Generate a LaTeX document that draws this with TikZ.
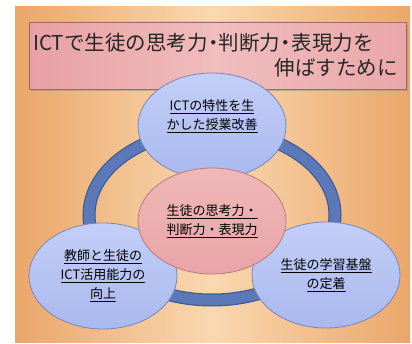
\documentclass[tikz,border=0pt]{standalone}
\usepackage{fontspec}
\setmainfont{Noto Sans CJK JP}
\usetikzlibrary{shapes.geometric}
\definecolor{bgedge}{HTML}{EBA66A}
\definecolor{bgmid}{HTML}{F9D8B0}
\definecolor{ringdark}{HTML}{3F5A96}
\definecolor{ringfill}{HTML}{5B78B8}
\definecolor{bubtop}{HTML}{C3CFF8}
\definecolor{bubbot}{HTML}{A9B8EE}
\definecolor{bubline}{HTML}{7A86B8}
\definecolor{pinktop}{HTML}{F0B8B8}
\definecolor{pinkbot}{HTML}{E9A4A6}
\definecolor{pinkline}{HTML}{B47C7C}
\definecolor{titleL}{HTML}{E8A0A3}
\definecolor{titleM}{HTML}{F1BDBD}
\definecolor{titleR}{HTML}{EAA7A9}
\definecolor{titleline}{HTML}{A06A6A}
\newcommand\halfdot{\makebox[0.55em]{・}}
\begin{document}
\begin{tikzpicture}[x=1pt,y=-1pt,
  bub/.style={ellipse, draw=bubline, line width=0.8pt, top color=bubtop, bottom color=bubbot,
    minimum width=148pt, minimum height=106pt, inner sep=0pt, align=center,
    font=\fontsize{13}{19}\selectfont, text=black},
  core/.style={bub, draw=pinkline, top color=pinktop, bottom color=pinkbot},
  titletext/.style={inner sep=0pt, font=\fontsize{20.5}{24}\selectfont, text=black!85}]
\useasboundingbox (0,0) rectangle (412,344);
% background panel
\path[left color=bgedge, right color=bgedge, middle color=bgmid] (15,7) rectangle (410,342);
% title box with shadow
\fill[black!45, opacity=0.5] (31,25) rectangle (408,91);
\node[draw=titleline, line width=0.6pt, left color=titleL, right color=titleR, middle color=titleM,
  minimum width=377pt, minimum height=67pt, inner sep=0pt] (title) at (217.5,55.5) {};
\node[titletext, anchor=base west] (t1) at (33,51) {ICTで生徒の思考力\halfdot 判断力\halfdot 表現力を};
\node[titletext, anchor=base east] (t2) at (398,76) {伸ばすために};
% ring
\draw[ringdark, line width=13pt] (212,215) ellipse [x radius=123, y radius=85];
\draw[ringfill, line width=10.5pt] (212,215) ellipse [x radius=123, y radius=85];
% bubbles
\node[bub] (top) at (212,126) {\underline{ICTの特性を生}\\\underline{かした授業改善}\\[3pt]};
\node[bub] (left) at (103,276) {\underline{教師と生徒の}\\\underline{ICT活用能力の}\\\underline{向上}};
\node[bub] (right) at (326,275) {\underline{生徒の学習基盤}\\\underline{の定着}};
\node[core] (center) at (212,221) {\underline{生徒の思考力・}\\\underline{判断力・表現力}};
\end{tikzpicture}
\end{document}
